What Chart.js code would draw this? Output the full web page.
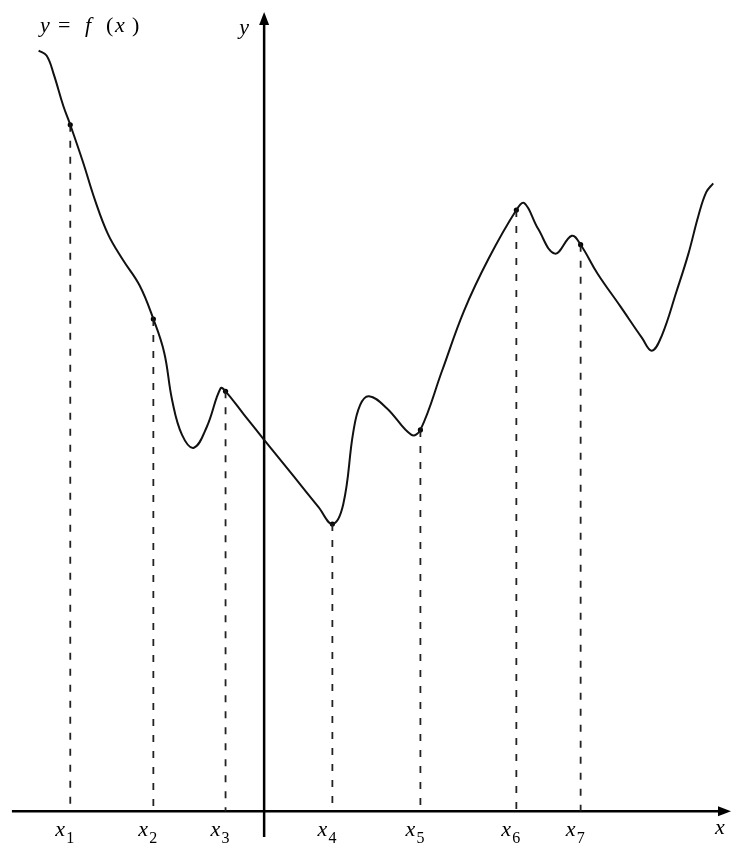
<!DOCTYPE html>
<html>
<head>
<meta charset="utf-8">
<script src="https://cdn.jsdelivr.net/npm/chart.js@4/dist/chart.umd.min.js"></script>
<style>
  html, body { margin: 0; padding: 0; background: #fff; }
  #wrap { width: 733px; height: 847px; position: relative; }
</style>
</head>
<body>
<div id="wrap"><canvas id="canvas"></canvas></div>
<script>
// curve y = f(x) (1 unit = 10 px, origin at the axes crossing)
var curveX = [-22.8, -22.0, -21.3, -20.3, -19.6, -18.3, -17.1, -15.8, -14.3, -12.6, -11.2,
              -10.1, -9.3, -8.3, -7.1, -5.8, -4.4, -3.9, -2.0, 0.0, 3.0, 5.5, 6.9, 8.0, 9.0, 9.7, 10.6,
              12.4, 14.9, 15.8, 18.0, 20.2, 22.7, 25.5, 26.3, 27.7, 29.4, 31.1, 32.0,
              33.7, 36.0, 38.2, 39.2, 40.2, 41.7, 42.9, 43.9, 44.7, 45.4];
var curveY = [76.8, 76.3, 74.5, 71.2, 69.3, 65.5, 61.7, 58.3, 55.7, 53.1, 49.7,
              46.3, 41.5, 38.0, 36.7, 38.8, 42.7, 42.4, 40.0, 37.5, 33.8, 30.7, 29.0, 31.0, 38.2, 41.0, 41.9,
              40.7, 38.0, 38.5, 44.5, 50.5, 55.8, 60.7, 61.4, 58.8, 56.3, 58.1, 57.2,
              54.3, 51.0, 47.8, 46.5, 48.0, 52.5, 56.3, 60.1, 62.5, 63.4];

// marked points x1..x7
var markX = [-19.6, -11.2, -3.9, 6.9, 15.8, 25.5, 32.0];
var markY = [69.3, 49.7, 42.4, 29.0, 38.5, 60.7, 57.2];
var markNames = ['1', '2', '3', '4', '5', '6', '7'];

var xRange = [-26.3, 47.0];
var yRange = [-3.2, 81.5];

var SERIF = '"Liberation Serif", "DejaVu Serif", serif';

function toPoints(xs, ys) {
    return xs.map(function (x, i) { return { x: x, y: ys[i] }; });
}

function dropLines() {
    var pts = [];
    markX.forEach(function (x, i) {
        pts.push({ x: x, y: markY[i] });
        pts.push({ x: x, y: 0 });
        pts.push({ x: x, y: null });
    });
    return pts;
}

var axesPlugin = {
    id: 'axes',
    beforeDatasetsDraw: function (chart) {
        var ctx = chart.ctx, xs = chart.scales.x, ys = chart.scales.y;
        var x0 = xs.getPixelForValue(0), y0 = ys.getPixelForValue(0);
        ctx.save();
        ctx.strokeStyle = '#000';
        ctx.fillStyle = '#000';
        ctx.lineWidth = 2.5;
        // x axis
        ctx.beginPath();
        ctx.moveTo(xs.getPixelForValue(-25.5), y0);
        ctx.lineTo(xs.right - 8, y0);
        ctx.stroke();
        ctx.beginPath();
        ctx.moveTo(xs.right + 2, y0);
        ctx.lineTo(xs.right - 11, y0 - 5);
        ctx.lineTo(xs.right - 11, y0 + 5);
        ctx.closePath();
        ctx.fill();
        // y axis
        var yTop = ys.getPixelForValue(80.7);
        ctx.beginPath();
        ctx.moveTo(x0, ys.getPixelForValue(-2.6));
        ctx.lineTo(x0, yTop + 8);
        ctx.stroke();
        ctx.beginPath();
        ctx.moveTo(x0, yTop);
        ctx.lineTo(x0 - 5, yTop + 13);
        ctx.lineTo(x0 + 5, yTop + 13);
        ctx.closePath();
        ctx.fill();
        ctx.restore();
    },
    afterDraw: function (chart) {
        var ctx = chart.ctx, xs = chart.scales.x, ys = chart.scales.y;
        var y0 = ys.getPixelForValue(0);
        ctx.save();
        ctx.fillStyle = '#000';
        ctx.textBaseline = 'alphabetic';
        ctx.textAlign = 'left';
        // x_i labels
        markX.forEach(function (x, i) {
            var px = xs.getPixelForValue(x);
            ctx.font = 'italic 22px ' + SERIF;
            ctx.fillText('x', px - 15, y0 + 25);
            ctx.font = '16px ' + SERIF;
            ctx.fillText(markNames[i], px - 4, y0 + 32);
        });
        // axis names
        ctx.font = 'italic 22px ' + SERIF;
        ctx.fillText('x', xs.right - 14, y0 + 23);
        var x0 = xs.getPixelForValue(0);
        ctx.fillText('y', x0 - 25, ys.top + 30);
        // function label  y = f(x)
        var parts = [['y', true, 40], ['=', false, 58], ['f', true, 85], ['(', false, 106], ['x', true, 115], [')', false, 132]];
        parts.forEach(function (p) {
            ctx.font = (p[1] ? 'italic ' : '') + '22px ' + SERIF;
            ctx.fillText(p[0], p[2], 32);
        });
        ctx.restore();
    }
};

var config = {
    type: 'line',
    data: {
        datasets: [{
            label: 'f',
            data: toPoints(curveX, curveY),
            borderColor: '#111',
            borderWidth: 2,
            pointRadius: 0,
            tension: 0.4,
            fill: false
        }, {
            label: 'drops',
            data: dropLines(),
            borderColor: '#222',
            borderWidth: 1.8,
            borderDash: [7, 9],
            pointRadius: 0,
            spanGaps: false,
            tension: 0
        }, {
            label: 'marks',
            data: toPoints(markX, markY),
            showLine: false,
            pointRadius: 2.6,
            pointBackgroundColor: '#000',
            pointBorderWidth: 0
        }]
    },
    options: {
        responsive: true,
        maintainAspectRatio: false,
        animation: false,
        layout: { padding: 0 },
        plugins: { legend: { display: false }, tooltip: { enabled: false } },
        scales: {
            x: { type: 'linear', min: xRange[0], max: xRange[1], display: false },
            y: { type: 'linear', min: yRange[0], max: yRange[1], display: false }
        }
    },
    plugins: [axesPlugin]
};

window.myChart = new Chart(document.getElementById('canvas'), config);
</script>
</body>
</html>
